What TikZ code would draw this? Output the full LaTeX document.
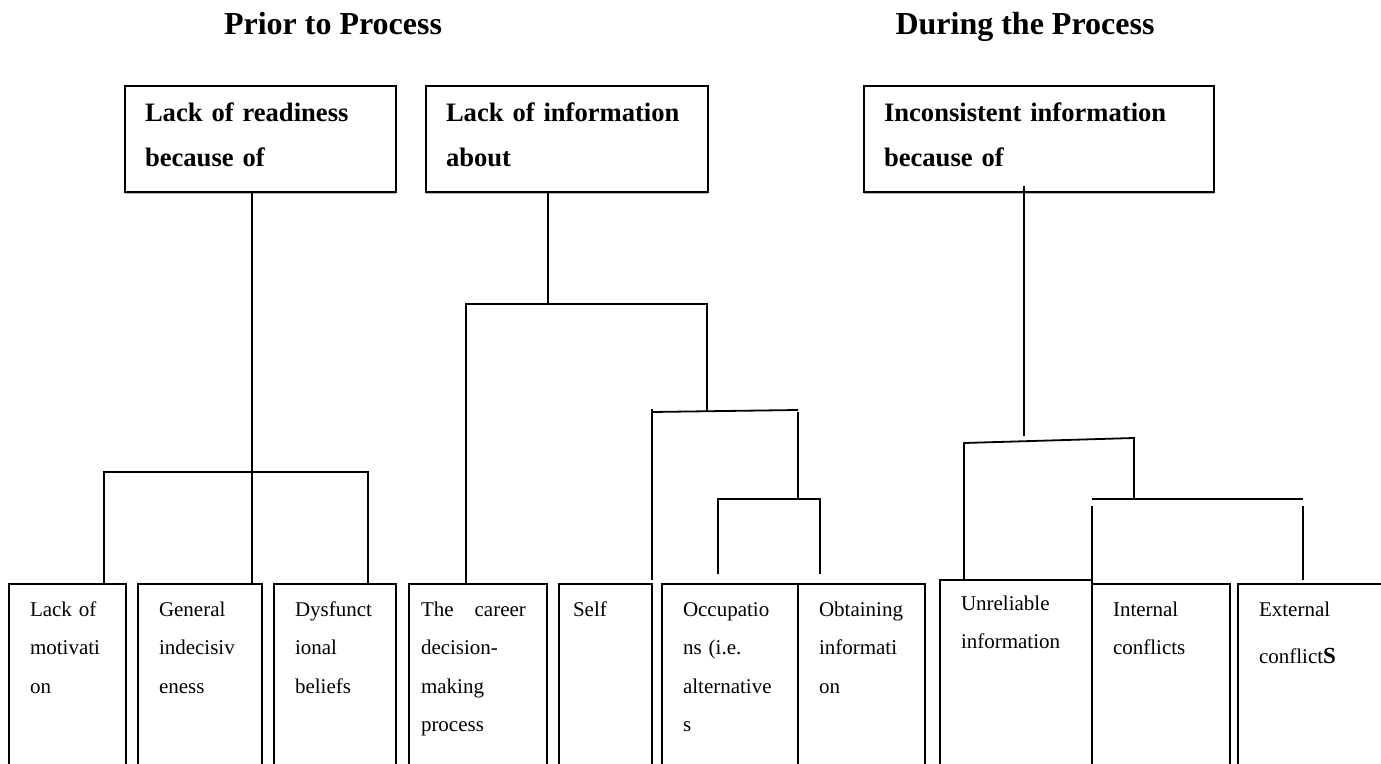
\documentclass[tikz,border=0pt]{standalone}
\usepackage{fontspec}
\setmainfont{Liberation Serif}
\usetikzlibrary{positioning,shadows}

\begin{document}
\begin{tikzpicture}[
      x=0.5pt, y=-0.5pt,
      head/.style={anchor=base,font=\fontsize{16}{19}\selectfont\bfseries},
      cause/.style={draw,fill=white,line width=1pt,outer sep=0pt,anchor=north west,align=left,
        inner xsep=10pt,inner ysep=4pt,text height=14pt,text depth=31pt,
        font=\fontsize{13.3}{22.5}\selectfont\bfseries,
        drop shadow={shadow xshift=0pt,shadow yshift=-1.2pt,fill=gray!60,opacity=1}},
      leaf/.style={draw,line width=1pt,outer sep=0pt,anchor=north west,align=left,
        inner xsep=10.5pt,inner ysep=4pt,text height=12pt,text depth=83pt,
        font=\fontsize{10.5}{19.25}\selectfont},
      link/.style={line width=0.9pt},
    ]
    \useasboundingbox (0,0) rectangle (1381,764);
    \clip (0,0) rectangle (1381,764);
    %
    \node (prior) [head] at (333,35) {Prior to Process};
    \node (during) [head] at (1025,35) {During the Process};
    %
    \node (rd) [cause,text width=115.5pt] at (125,86) {Lack of readiness\\because of};
    \node (inf) [cause,text width=121pt,right=15pt of rd] {Lack of information\\about};
    \node (inc) [cause,text width=155pt] at (864,86) {Inconsistent information\\because of};
    %
    \node (lm) [leaf,text width=37.5pt] at (9,584) {Lack of\\motivati\\on};
    \node (gi) [leaf,text width=41pt,right=6pt of lm] {General\\indecisiv\\eness};
    \node (db) [leaf,text width=40pt,right=6pt of gi] {Dysfunct\\ional\\beliefs};
    \node (cdm) [leaf,inner xsep=6pt,text width=57pt,right=6.5pt of db]
      {The\quad career\\decision-\\making\\process};
    \node (self) [leaf,inner xsep=7pt,text width=32.5pt,right=6pt of cdm] {Self};
    \node (occ) [leaf,text width=47pt,right=5pt of self] {Occupatio\\ns (i.e.\\alternative\\s};
    \node (obt) [leaf,text width=42.5pt,right=0pt of occ] {Obtaining\\informati\\on};
    %
    \node (unr) [leaf,text height=11pt,text depth=88pt,text width=55pt] at (940,580)
      {Unreliable\\information};
    \node (intc) [leaf,text width=48pt,right=0pt of unr] {Internal\\conflicts};
    \node (extc) [leaf,text width=55pt,right=4pt of intc]
      {External\\[4.5pt]conflict{\fontsize{11.5}{19}\selectfont\bfseries S}};
    %
    \coordinate (ra) at (252,472);
    \coordinate (ral) at (104,472);
    \coordinate (rar) at (368,472);
    \draw [link,line width=0.7pt] (rd.south -| ra) -- (ra);
    \draw [link] (lm.north -| ral) -- (ral) -- (rar) -- (db.north -| rar);
    \draw [link] (ra) -- (gi.north -| ra);
    %
    \coordinate (ia) at (548,304);
    \coordinate (ial) at (466,304);
    \coordinate (iar) at (707,304);
    \coordinate (ib) at (707,411);
    \coordinate (ibl) at (652,412);
    \coordinate (ibr) at (798,410);
    \coordinate (ic) at (798,499);
    \coordinate (icl) at (718,499);
    \coordinate (icr) at (820,499);
    \draw [link,line width=0.7pt] (inf.south -| ia) -- (ia);
    \draw [link] (cdm.north -| ial) -- (ial) -- (iar) -- (ib);
    \draw [link] ([yshift=1.5pt]ibl) -- ([yshift=2pt]self.north east);
    \draw [link] (ibl) -- (ibr);
    \draw [link] ([yshift=-1pt]ibr) -- (ic);
    \draw [link] ([yshift=5pt]occ.north -| icl) -- (icl) -- (icr) -- ([yshift=5pt]obt.north -| icr);
    %
    \coordinate (ca) at (1024,436);
    \coordinate (cal) at (964,443);
    \coordinate (car) at (1134,438);
    \coordinate (cb) at (1134,499);
    \coordinate (cbl) at (1092,499);
    \coordinate (cbr) at (1303,499);
    \draw [link,line width=0.7pt] ([yshift=3pt]inc.south -| ca) -- (ca);
    \draw [link] (unr.north -| cal) -- (cal) -- (car) -- (cb);
    \draw [link] (cbl) -- (cbr);
    \draw [link] ([yshift=-3.5pt]cbl) -- (intc.north west);
    \draw [link] ([yshift=-3.5pt]cbr) -- ([yshift=2pt]extc.north -| cbr);
    %
  \end{tikzpicture}
\end{document}
